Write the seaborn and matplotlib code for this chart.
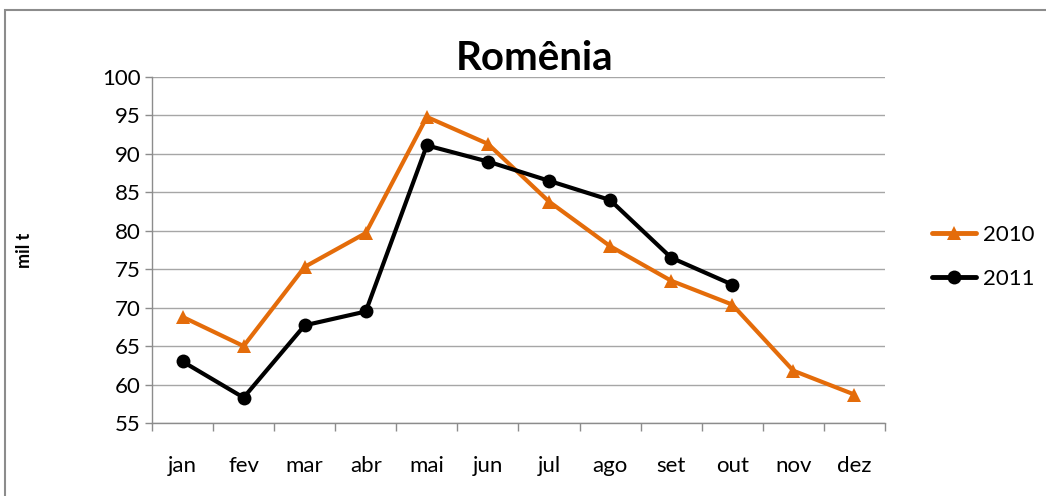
import pandas as pd
import matplotlib.pyplot as plt
import seaborn as sns
from matplotlib.patches import Rectangle
from matplotlib.ticker import FixedLocator

# Data (mil t)
months = ['jan', 'fev', 'mar', 'abr', 'mai', 'jun', 'jul', 'ago', 'set', 'out', 'nov', 'dez']
v2010 = [68.8, 65.0, 75.3, 79.7, 94.8, 91.3, 83.8, 78.0, 73.5, 70.4, 61.8, 58.7]
v2011 = [63.0, 58.3, 67.7, 69.5, 91.1, 89.0, 86.5, 84.0, 76.5, 73.0]
yticks = list(range(55, 101, 5))

df = pd.concat([
    pd.DataFrame({'mes': months, 'valor': v2010, 'ano': '2010'}),
    pd.DataFrame({'mes': months[:len(v2011)], 'valor': v2011, 'ano': '2011'}),
])

sns.set_theme(style='white')
plt.rcParams['font.family'] = ['Lato', 'DejaVu Sans']
plt.rcParams['text.color'] = 'black'

fig = plt.figure(figsize=(10.46, 4.96), dpi=100)
ax = fig.add_axes([0.1453, 0.1472, 0.7007, 0.6976])

# outer chart frame
fig.patches.append(Rectangle((0.005, -0.1), 1.2, 1.08, transform=fig.transFigure,
                             fill=False, edgecolor='#8c8c8c', linewidth=1.5))

sns.lineplot(data=df, x='mes', y='valor', hue='ano', style='ano',
             palette={'2010': '#E46C0A', '2011': '#000000'},
             markers={'2010': '^', '2011': 'o'}, dashes=False,
             linewidth=3.0, markersize=10, markeredgewidth=0, sort=False, ax=ax)

ax.set_ylim(55, 100)
ax.set_xlim(-0.5, 11.5)
ax.set_yticks(yticks)
ax.yaxis.grid(True, color='#a6a6a6', linewidth=1)
ax.set_axisbelow(True)
for s in ['top', 'right']:
    ax.spines[s].set_visible(False)
for s in ['left', 'bottom']:
    ax.spines[s].set_color('#8c8c8c')
    ax.spines[s].set_linewidth(1)

ax.set_xticks(range(len(months)))
ax.set_xticklabels(months)
ax.xaxis.set_minor_locator(FixedLocator([i - 0.5 for i in range(len(months) + 1)]))
ax.tick_params(axis='x', which='major', length=0, pad=24, labelsize=16, labelcolor='black')
ax.tick_params(axis='x', which='minor', length=6, width=1, color='#8c8c8c', bottom=True)
ax.tick_params(axis='y', length=5, width=1, color='#8c8c8c', labelsize=16, pad=3,
               left=True, labelcolor='black')

ax.set_xlabel('')
ax.set_ylabel('mil t', fontsize=13, fontweight='bold', color='black')
ax.yaxis.set_label_coords(-0.163, 0.5)

fig.text(0.511, 0.882, 'Romênia', ha='center', va='center', fontsize=29,
         fontweight='bold', color='black')

leg = ax.legend(loc='center left', bbox_to_anchor=(1.052, 0.48), frameon=False,
                fontsize=16, handlelength=2.0, handletextpad=0.3, labelspacing=1.1,
                markerscale=1.0, borderaxespad=0)
for h in leg.legend_handles:
    h.set_linewidth(3.5)
for t in leg.get_texts():
    t.set_color('black')

fig.savefig('out.png', dpi=100)
